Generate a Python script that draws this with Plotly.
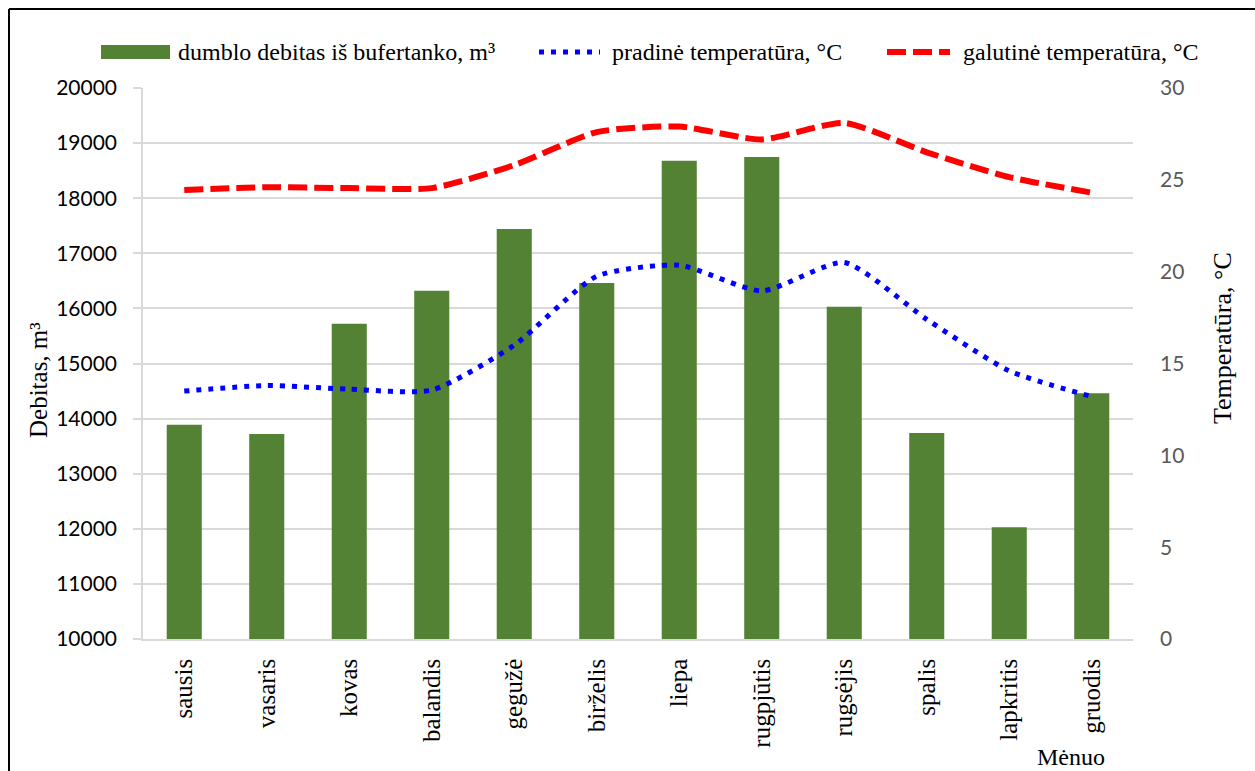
import plotly.graph_objects as go

# Monthly data
months = ["sausis", "vasaris", "kovas", "balandis", "gegužė", "birželis",
          "liepa", "rugpjūtis", "rugsėjis", "spalis", "lapkritis", "gruodis"]
flow_m3 = [13890, 13720, 15720, 16320, 17440, 16460,
           18680, 18750, 16030, 13740, 12030, 14460]
temp_start = [13.5, 13.8, 13.6, 13.55, 16.0, 19.75,
              20.35, 18.95, 20.5, 17.4, 14.6, 13.2]
temp_end = [24.45, 24.6, 24.55, 24.55, 25.8, 27.6,
            27.9, 27.2, 28.1, 26.5, 25.15, 24.3]

left_ticks = list(range(10000, 20001, 1000))
left_labels = [str(v) for v in left_ticks]
right_ticks = list(range(0, 31, 5))

GREEN = "#548235"
BLUE = "#0000FF"
RED = "#FF0000"
GRID = "#d9d9d9"
SERIF = "Liberation Serif, Times New Roman, serif"
SANS = "Lato, Carlito, Calibri, sans-serif"

fig = go.Figure()
fig.add_trace(go.Bar(
    x=months, y=flow_m3, base=0, marker_color=GREEN, marker_line_width=0,
    name="dumblo debitas iš bufertanko, m³", showlegend=False,
))
fig.add_trace(go.Scatter(
    x=months, y=temp_start, yaxis="y2", mode="lines",
    line=dict(color=BLUE, width=5, dash="5px,7px", shape="spline", smoothing=0.6),
    name="pradinė temperatūra, °C", showlegend=False,
))
fig.add_trace(go.Scatter(
    x=months, y=temp_end, yaxis="y2", mode="lines",
    line=dict(color=RED, width=6, dash="19px,7px", shape="spline", smoothing=0.6),
    name="galutinė temperatūra, °C", showlegend=False,
))

L, R, T, B = 143, 122, 88, 132
W, H = 1255, 771
PW, PH = W - L - R, H - T - B


def px(x):
    return (x - L) / PW


def py(y):
    return (H - B - y) / PH


fig.update_layout(
    width=W, height=H,
    margin=dict(l=L, r=R, t=T, b=B, pad=0),
    paper_bgcolor="white", plot_bgcolor="white",
    bargap=0.575,
    xaxis=dict(
        type="category", showgrid=False, showline=True, linecolor=GRID, linewidth=1.5,
        ticks="", tickangle=-90, ticklabelstandoff=8,
        tickfont=dict(family=SERIF, size=25, color="black"),
    ),
    yaxis=dict(
        range=[10000, 20000], tickvals=left_ticks, ticktext=left_labels,
        showgrid=True, gridcolor=GRID,
        gridwidth=1.5, showline=True, linecolor=GRID, linewidth=1.5,
        ticks="outside", ticklen=8, tickcolor=GRID, tickwidth=1.5,
        ticklabelstandoff=12, zeroline=False,
        tickfont=dict(family=SANS, size=21, color="black"),
    ),
    yaxis2=dict(
        range=[0, 30], tickvals=right_ticks, overlaying="y", side="right",
        showgrid=False, showline=False, ticks="", zeroline=False,
        ticklabelstandoff=26,
        tickfont=dict(family=SANS, size=21, color="#595959"),
    ),
)

annotations = [
    dict(text="Debitas, m³", x=px(38), y=py(380), textangle=-90,
         font=dict(family=SERIF, size=25, color="black")),
    dict(text="Temperatūra, °C", x=px(1222), y=py(338), textangle=-90,
         font=dict(family=SERIF, size=26, color="black")),
    dict(text="Mėnuo", x=px(1071), y=py(757),
         font=dict(family=SERIF, size=24, color="black")),
    dict(text="dumblo debitas iš bufertanko, m³", x=px(176), y=py(52), xanchor="left",
         font=dict(family=SERIF, size=24, color="black")),
    dict(text="pradinė temperatūra, °C", x=px(610), y=py(52), xanchor="left",
         font=dict(family=SERIF, size=24, color="black")),
    dict(text="galutinė temperatūra, °C", x=px(961), y=py(52), xanchor="left",
         font=dict(family=SERIF, size=24, color="black")),
]
for a in annotations:
    a.setdefault("xanchor", "center")
    a.update(xref="paper", yref="paper", yanchor="middle", showarrow=False)
fig.update_layout(annotations=annotations)

shapes = [
    # legend swatches
    dict(type="rect", x0=px(101), x1=px(170), y0=py(59), y1=py(45),
         fillcolor=GREEN, line_width=0),
    dict(type="line", x0=px(539), x1=px(600), y0=py(52), y1=py(52),
         line=dict(color=BLUE, width=5, dash="5px,7px")),
    dict(type="line", x0=px(887), x1=px(950), y0=py(52), y1=py(52),
         line=dict(color=RED, width=6, dash="19px,7px")),
    # chart frame (left and top edges)
    dict(type="line", x0=px(9), x1=px(9), y0=py(9), y1=py(H),
         line=dict(color="black", width=2)),
    dict(type="line", x0=px(9), x1=px(W), y0=py(9), y1=py(9),
         line=dict(color="black", width=2)),
]
for s in shapes:
    s.update(xref="paper", yref="paper")
fig.update_layout(shapes=shapes)

fig.write_html("out.html")
